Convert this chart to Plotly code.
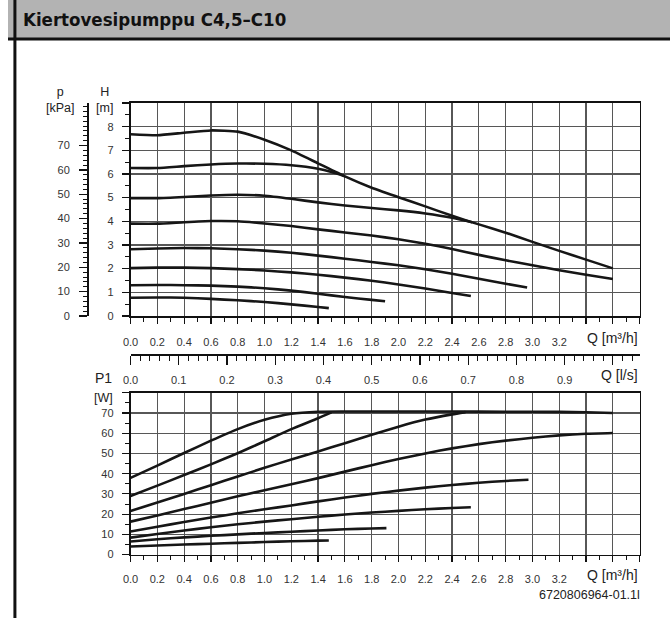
import plotly.graph_objects as go

# ---------------- data ----------------
# Upper chart: head H [m] vs flow Q [m³/h]
q_h1 = [0, 0.2, 0.4, 0.6, 0.8, 1.0, 1.2, 1.4, 1.6, 1.8, 2.0, 2.2, 2.4, 2.6, 2.8, 3.0, 3.2, 3.4, 3.6]
h1 = [7.68, 7.64, 7.74, 7.84, 7.79, 7.45, 7.00, 6.45, 5.90, 5.42, 5.02, 4.63, 4.23, 3.87, 3.52, 3.13, 2.75, 2.38, 2.01]
q_h2 = [0, 0.2, 0.4, 0.6, 0.8, 1.0, 1.2, 1.4, 1.5, 1.6]
h2 = [6.25, 6.25, 6.33, 6.40, 6.44, 6.43, 6.37, 6.22, 6.08, 5.90]
q_h3 = [0, 0.2, 0.4, 0.6, 0.8, 1.0, 1.2, 1.4, 1.6, 1.8, 2.0, 2.2, 2.4, 2.55]
h3 = [4.98, 4.98, 5.03, 5.09, 5.12, 5.08, 4.95, 4.80, 4.67, 4.56, 4.46, 4.33, 4.15, 3.96]
q_h4 = [0, 0.2, 0.4, 0.6, 0.8, 1.0, 1.2, 1.4, 1.6, 1.8, 2.0, 2.2, 2.4, 2.6, 2.8, 3.0, 3.2, 3.4, 3.6]
h4 = [3.90, 3.90, 3.96, 4.01, 4.00, 3.91, 3.80, 3.66, 3.53, 3.40, 3.24, 3.05, 2.83, 2.58, 2.35, 2.14, 1.93, 1.74, 1.56]
q_h5 = [0, 0.2, 0.4, 0.6, 0.8, 1.0, 1.2, 1.4, 1.6, 1.8, 2.0, 2.2, 2.4, 2.6, 2.8, 2.96]
h5 = [2.82, 2.85, 2.87, 2.86, 2.82, 2.76, 2.67, 2.55, 2.42, 2.28, 2.14, 1.97, 1.78, 1.57, 1.36, 1.20]
q_h6 = [0, 0.2, 0.4, 0.6, 0.8, 1.0, 1.2, 1.4, 1.6, 1.8, 2.0, 2.2, 2.4, 2.54]
h6 = [2.02, 2.04, 2.04, 2.02, 1.98, 1.92, 1.84, 1.74, 1.62, 1.49, 1.33, 1.16, 0.97, 0.84]
q_h7 = [0, 0.2, 0.4, 0.6, 0.8, 1.0, 1.2, 1.4, 1.6, 1.8, 1.9]
h7 = [1.30, 1.31, 1.30, 1.28, 1.24, 1.17, 1.07, 0.94, 0.80, 0.68, 0.62]
q_h8 = [0, 0.2, 0.4, 0.6, 0.8, 1.0, 1.2, 1.4, 1.48]
h8 = [0.77, 0.78, 0.77, 0.72, 0.66, 0.59, 0.49, 0.38, 0.33]

# Lower chart: power P1 [W] vs flow Q [m³/h]
q_p1 = [0, 0.2, 0.4, 0.6, 0.8, 1.0, 1.2, 1.4, 1.6, 2.0, 2.4, 2.8, 3.2, 3.4, 3.6]
p1 = [37.9, 44.0, 50.2, 56.3, 62.0, 66.6, 69.6, 70.6, 70.7, 70.7, 70.7, 70.6, 70.5, 70.3, 70.0]
q_p2 = [0, 0.2, 0.4, 0.6, 0.8, 1.0, 1.2, 1.4, 1.5]
p2 = [29.0, 34.1, 39.3, 44.6, 50.1, 56.0, 62.0, 67.4, 70.3]
q_p3 = [0, 0.2, 0.4, 0.6, 0.8, 1.0, 1.2, 1.4, 1.6, 1.8, 2.0, 2.2, 2.4, 2.5]
p3 = [21.5, 25.8, 30.0, 34.3, 38.6, 42.9, 47.0, 51.0, 55.0, 59.2, 63.2, 66.7, 69.3, 70.4]
q_p4 = [0, 0.2, 0.4, 0.6, 0.8, 1.0, 1.2, 1.4, 1.6, 1.8, 2.0, 2.2, 2.4, 2.6, 2.8, 3.0, 3.2, 3.4, 3.6]
p4 = [16.3, 19.3, 22.5, 25.6, 28.8, 31.8, 34.8, 37.8, 41.0, 44.2, 47.2, 50.0, 52.5, 54.6, 56.3, 57.7, 58.9, 59.7, 60.1]
q_p5 = [0, 0.2, 0.4, 0.6, 0.8, 1.0, 1.2, 1.4, 1.6, 1.8, 2.0, 2.2, 2.4, 2.6, 2.8, 2.97]
p5 = [11.4, 13.8, 16.1, 18.3, 20.4, 22.4, 24.3, 26.3, 28.2, 30.0, 31.6, 33.1, 34.4, 35.5, 36.4, 37.0]
q_p6 = [0, 0.2, 0.4, 0.6, 0.8, 1.0, 1.2, 1.4, 1.6, 1.8, 2.0, 2.2, 2.4, 2.54]
p6 = [8.4, 10.2, 11.9, 13.5, 15.0, 16.3, 17.5, 18.7, 19.8, 20.8, 21.6, 22.4, 23.0, 23.4]
q_p7 = [0, 0.2, 0.4, 0.6, 0.8, 1.0, 1.2, 1.4, 1.6, 1.8, 1.91]
p7 = [6.5, 7.6, 8.5, 9.3, 10.0, 10.7, 11.3, 11.9, 12.5, 12.9, 13.1]
q_p8 = [0, 0.2, 0.4, 0.6, 0.8, 1.0, 1.2, 1.4, 1.48]
p8 = [4.0, 4.5, 5.0, 5.4, 5.8, 6.2, 6.6, 6.9, 7.0]

# Tick labels
q_ticks = [round(0.2 * i, 1) for i in range(20)]          # 0.0 .. 3.8 m³/h
q_labels = [f"{v:.1f}" if v <= 3.2 else "" for v in q_ticks]
ls_ticks = [round(0.1 * i, 1) for i in range(11)]         # 0.0 .. 1.0 l/s
ls_labels = [f"{v:.1f}" if v <= 0.9 else "" for v in ls_ticks]
h_ticks = list(range(0, 10))
h_labels = [str(v) if v <= 8 else "" for v in h_ticks]
kpa_ticks = list(range(0, 80, 10))
kpa_labels = [str(v) for v in kpa_ticks]
w_ticks = list(range(0, 90, 10))
w_labels = [str(v) if v <= 70 else "" for v in w_ticks]

TITLE = "Kiertovesipumppu C4,5–C10"
CODE = "6720806964-01.1l"

# ---------------- layout helpers ----------------
FW, FH = 670, 624
def px(x):
    return x / FW
def py(y):
    return 1 - y / FH

X0, X1 = 124, 639.3
UP_T, UP_B = 104, 319
LO_T, LO_B = 396.5, 560
LS_Y = 357.5
Q_MAX = 3.8
KPA_MAX = 87.5

LINE = dict(color="#161616", width=2.6)
TICKFONT = dict(family="Liberation Sans, Arial, sans-serif", size=11, color="#333333")
LABFONT = dict(family="Liberation Sans, Arial, sans-serif", size=14, color="#222222")
GRID = "#575757"

fig = go.Figure()

upper = [(q_h1, h1), (q_h2, h2), (q_h3, h3), (q_h4, h4), (q_h5, h5), (q_h6, h6), (q_h7, h7), (q_h8, h8)]
lower = [(q_p1, p1), (q_p2, p2), (q_p3, p3), (q_p4, p4), (q_p5, p5), (q_p6, p6), (q_p7, p7), (q_p8, p8)]

for q, h in upper:
    fig.add_trace(go.Scatter(x=q, y=h, mode="lines", line=dict(**LINE, shape="spline", smoothing=0.5),
                             xaxis="x", yaxis="y", showlegend=False, hoverinfo="skip"))
for q, p in lower:
    fig.add_trace(go.Scatter(x=q, y=p, mode="lines", line=dict(**LINE, shape="spline", smoothing=0.5),
                             xaxis="x2", yaxis="y2", showlegend=False, hoverinfo="skip"))
# empty traces so that the secondary axes are drawn
fig.add_trace(go.Scatter(x=[], y=[], xaxis="x", yaxis="y3", showlegend=False, hoverinfo="skip"))
fig.add_trace(go.Scatter(x=[], y=[], xaxis="x3", yaxis="y4", showlegend=False, hoverinfo="skip"))

def qaxis(domain, anchor, standoff):
    return dict(domain=domain, anchor=anchor, range=[0, Q_MAX],
                tickmode="array", tickvals=q_ticks, ticktext=q_labels,
                ticks="outside", ticklen=6, tickwidth=1.2, tickcolor="#111",
                minor=dict(dtick=0.1, tick0=0, ticks="outside", ticklen=4, tickwidth=1, tickcolor="#111", showgrid=False),
                showgrid=True, gridcolor=GRID, gridwidth=1.2,
                showline=True, linecolor="#111", linewidth=1.8, mirror=True,
                zeroline=False, tickfont=TICKFONT, ticklabelstandoff=standoff, fixedrange=True)

xdom = [px(X0), px(X1)]
layout = dict(
    width=FW, height=FH, margin=dict(l=0, r=0, t=0, b=0), autosize=False,
    paper_bgcolor="white", plot_bgcolor="white", showlegend=False,
    xaxis=qaxis(xdom, "y", 9),
    xaxis2=qaxis(xdom, "y2", 7),
    yaxis=dict(domain=[py(UP_B), py(UP_T)], anchor="x", range=[0, 9],
               tickmode="array", tickvals=h_ticks, ticktext=h_labels,
               ticks="outside", ticklen=7, tickwidth=1.2, tickcolor="#111",
               minor=dict(dtick=0.5, tick0=0, ticks="outside", ticklen=4, tickwidth=1, tickcolor="#111", showgrid=False),
               showgrid=True, gridcolor=GRID, gridwidth=1.2,
               showline=True, linecolor="#111", linewidth=1.8, mirror=True,
               zeroline=False, tickfont=TICKFONT, ticklabelstandoff=6, fixedrange=True),
    yaxis2=dict(domain=[py(LO_B), py(LO_T)], anchor="x2", range=[0, 80],
                tickmode="array", tickvals=w_ticks, ticktext=w_labels,
                ticks="outside", ticklen=7, tickwidth=1.2, tickcolor="#111",
                minor=dict(dtick=5, tick0=0, ticks="outside", ticklen=4, tickwidth=1, tickcolor="#111", showgrid=False),
                showgrid=True, gridcolor=GRID, gridwidth=1.2,
                showline=True, linecolor="#111", linewidth=1.8, mirror=True,
                zeroline=False, tickfont=TICKFONT, ticklabelstandoff=6, fixedrange=True),
    yaxis3=dict(overlaying="y", anchor="free", position=px(80), side="left", range=[0, KPA_MAX],
                tickmode="array", tickvals=kpa_ticks, ticktext=kpa_labels,
                ticks="outside", ticklen=8, tickwidth=1.2, tickcolor="#111",
                minor=dict(dtick=2, tick0=0, ticks="outside", ticklen=4, tickwidth=1, tickcolor="#111", showgrid=False),
                showgrid=False, showline=True, linecolor="#111", linewidth=1.8,
                zeroline=False, tickfont=TICKFONT, ticklabelstandoff=7, fixedrange=True),
    # thin invisible strip that carries the l/s axis
    yaxis4=dict(domain=[py(LS_Y), py(LS_Y) + 0.002], anchor="x3", visible=False, range=[0, 1], fixedrange=True),
    xaxis3=dict(domain=xdom, anchor="y4", side="bottom", range=[0, Q_MAX / 3.6],
                tickmode="array", tickvals=ls_ticks, ticktext=ls_labels,
                ticks="outside", ticklen=9, tickwidth=1.2, tickcolor="#111",
                minor=dict(dtick=0.02, tick0=0, ticks="outside", ticklen=5, tickwidth=1, tickcolor="#111", showgrid=False),
                showgrid=False, showline=True, linecolor="#111", linewidth=1.8,
                zeroline=False, tickfont=TICKFONT, ticklabelstandoff=6, fixedrange=True),
)
fig.update_layout(**layout)

shapes = [
    dict(type="rect", xref="paper", yref="paper", x0=0, x1=1, y0=py(38.5), y1=1,
         fillcolor="#b3b3b3", line=dict(width=0), layer="below"),
    dict(type="line", xref="paper", yref="paper", x0=0, x1=1, y0=py(39.5), y1=py(39.5),
         line=dict(color="#111", width=3)),
    dict(type="line", xref="paper", yref="paper", x0=px(7), x1=px(7), y0=0, y1=1,
         line=dict(color="#111", width=3)),
]
fig.update_layout(shapes=shapes)

def ann(text, x, y, xanchor="center", font=LABFONT):
    return dict(text=text, x=px(x), y=py(y), xref="paper", yref="paper", showarrow=False,
                xanchor=xanchor, yanchor="middle", font=font)

SMALLLAB = dict(family="Liberation Sans, Arial, sans-serif", size=12.5, color="#222222")
annotations = [
    dict(text=f"<b>{TITLE}</b>", x=px(13), y=py(20), xref="paper", yref="paper", showarrow=False,
         xanchor="left", yanchor="middle",
         font=dict(family="DejaVu Sans Condensed, Liberation Sans Narrow, DejaVu Sans, sans-serif", size=18.5, color="#111")),
    ann("p<br>[kPa]", 53.5, 101, font=SMALLLAB),
    ann("H<br>[m]", 98, 101, font=SMALLLAB),
    ann("P1", 97, 382),
    ann("[W]", 97, 402, font=SMALLLAB),
    ann("Q [m³/h]", 640, 341, "right"),
    ann("Q [l/s]", 640, 379, "right"),
    ann("Q [m³/h]", 640, 581, "right"),
    ann(CODE, 642, 601, "right", dict(family="Liberation Sans, Arial, sans-serif", size=12.5, color="#222")),
]
fig.update_layout(annotations=annotations)

fig.write_html(
    "out.html",
    config={"displayModeBar": False, "staticPlot": True},
    post_script="document.body.style.margin='0';document.body.style.padding='0';document.body.style.overflow='hidden';",
)
